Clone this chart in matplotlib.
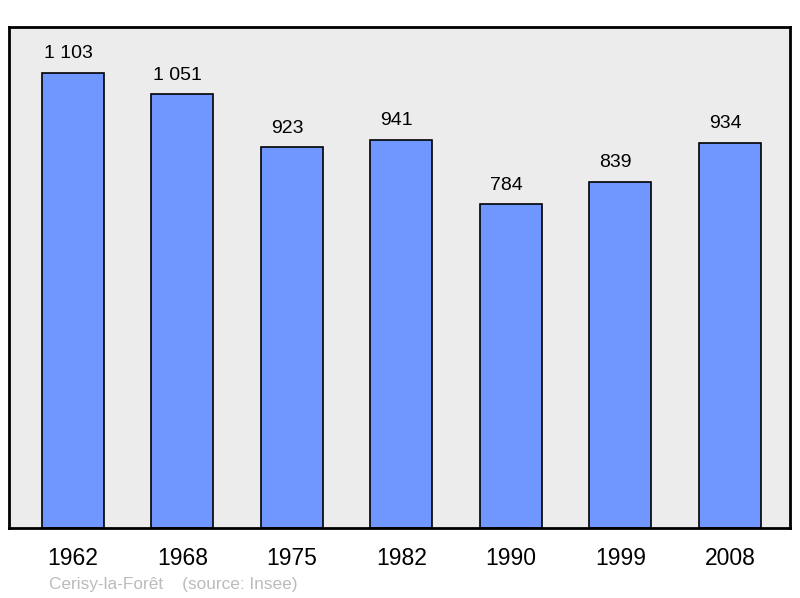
import matplotlib
matplotlib.use("Agg")
import matplotlib.pyplot as plt

years = ["1962", "1968", "1975", "1982", "1990", "1999", "2008"]
population = [1103, 1051, 923, 941, 784, 839, 934]
value_labels = ["1 103", "1 051", "923", "941", "784", "839", "934"]

plt.rcParams['font.family'] = ['Liberation Sans', 'DejaVu Sans']

fig = plt.figure(figsize=(8, 5.98), dpi=100)
ax = fig.add_axes([9/800, 1 - 528/598, 781/800, 501/598])
ax.set_facecolor('#ececec')

x = list(range(len(years)))
ax.bar(x, population, width=0.566, color='#7096ff', edgecolor='black', linewidth=1.2, zorder=2)
for xi, v, lab in zip(x, population, value_labels):
    ax.annotate(lab, (xi, v), xytext=(-3.5, 7.5), textcoords='offset points',
                ha='center', va='bottom', fontsize=14, color='black')

ax.set_xlim(-0.584, 6.548)
ax.set_ylim(0, 1214)
ax.set_yticks([])
ax.set_xticks(x)
ax.set_xticklabels(years, fontsize=16.5)
ax.tick_params(axis='x', length=0, pad=14)
for s in ax.spines.values():
    s.set_linewidth(2)
    s.set_color('black')

fig.text(49/800, 1 - 584/598, "Cerisy-la-Forêt    (source: Insee)", fontsize=12.4,
         color='#bbbbbb', ha='left', va='center')

fig.savefig('out.png', dpi=100)
